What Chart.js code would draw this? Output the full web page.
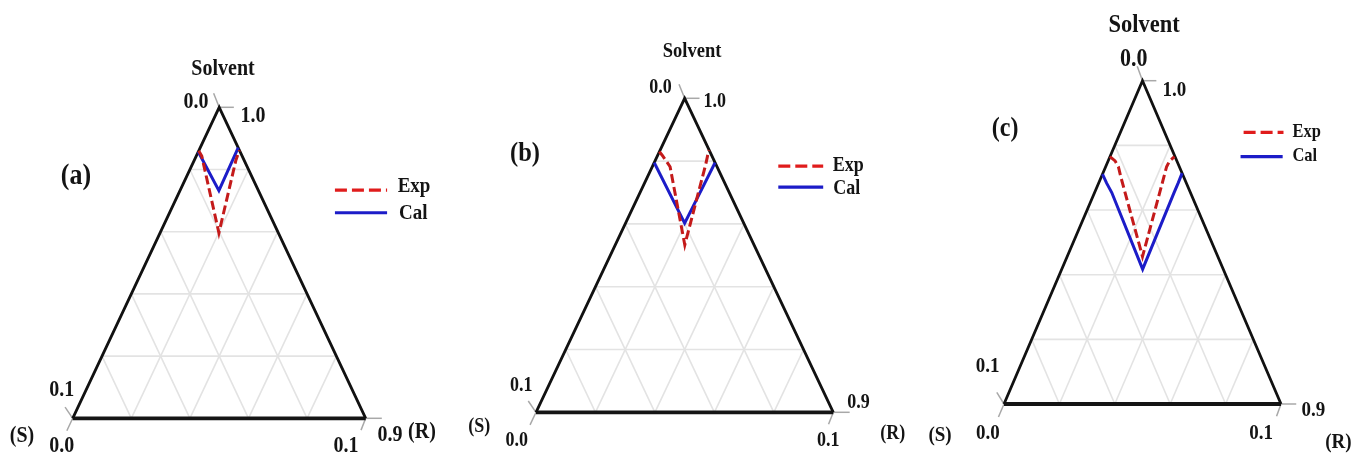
<!DOCTYPE html>
<html><head><meta charset="utf-8">
<script src="https://cdn.jsdelivr.net/npm/chart.js@4.4.1/dist/chart.umd.min.js"></script>
<style>
html,body{margin:0;padding:0;background:#fff;}
#wrap{position:relative;width:1356px;height:454px;overflow:hidden;background:#fff;}
canvas{position:absolute;top:0;}
</style></head><body>
<div id="wrap">
<canvas id="ca" width="460" height="454" style="left:0px"></canvas>
<canvas id="cb" width="480" height="454" style="left:440px"></canvas>
<canvas id="cc" width="460" height="454" style="left:896px"></canvas>
</div>
<script>
// ---------- text / category data ----------
const panelNames  = ['(a)', '(b)', '(c)'];
const seriesNames = ['Exp', 'Cal'];
const apexName    = 'Solvent';
const cornerNames = ['(S)', '(R)'];
const apexTicks   = ['0.0', '1.0'];
const leftTicks   = ['0.1', '0.0'];
const rightTicks  = ['0.9', '0.1'];
const gridSteps   = [0.2, 0.4, 0.6, 0.8];

// ---------- series values (ternary fractions: Solvent, R ; S = 1 - Solvent - R) ----------
// panel (a)
const expA_solvent = [0.860, 0.843, 0.596, 0.830, 0.862];
const expA_R       = [0.000, 0.019, 0.201, 0.142, 0.138];
const calA_solvent = [0.857, 0.732, 0.870];
const calA_R       = [0.000, 0.133, 0.130];
// panel (b)
const expB_solvent = [0.830, 0.818, 0.800, 0.782, 0.533, 0.790, 0.812, 0.826, 0.835];
const expB_R       = [0.000, 0.016, 0.038, 0.060, 0.234, 0.176, 0.170, 0.166, 0.165];
const calB_solvent = [0.795, 0.602, 0.795];
const calB_R       = [0.000, 0.199, 0.205];
// panel (c)
const expC_solvent = [0.765, 0.752, 0.734, 0.703, 0.456, 0.703, 0.734, 0.752, 0.765];
const expC_R       = [0.000, 0.025, 0.046, 0.070, 0.272, 0.226, 0.220, 0.222, 0.233];
const calC_solvent = [0.711, 0.683, 0.654, 0.417, 0.654, 0.684, 0.714];
const calC_R       = [0.000, 0.029, 0.062, 0.292, 0.287, 0.287, 0.286];

// ---------- layout (positions / sizes / styles) ----------
const FONT = '"Liberation Serif", "Times New Roman", serif';
const RED = '#c41a1a', RED_LEG = '#e01c1c', BLUE = '#1c1cc8';
const panels = [
  { id:'ca', cw:460, blx:72.7, bly:418.3, w:293, h:311,
    exp:[expA_solvent, expA_R], cal:[calA_solvent, calA_R], sy:1.12,
    fs:{title:20, apexL:20, tick:20, panel:26, legend:19},
    pos:{title:[.513,1.123], apexL:[.421,1.017], apexR:[.615,.972], panel:[.011,.776],
         exp:[1.165,.744], cal:[1.162,.660], legExp:[.895,1.073,.734], legCal:[.895,1.073,.661],
         leftUp:[-.037,.091], S:[-.173,-.057], leftDown:[-.037,-.089],
         rightDown:[.933,-.089], rightUp:[1.083,-.054], R:[1.192,-.046]} },
  { id:'cb', cw:480, blx:96, bly:412.3, w:297.3, h:314,
    exp:[expB_solvent, expB_R], cal:[calB_solvent, calB_R], sy:1.12,
    fs:{title:18.5, apexL:18, tick:18, panel:24.5, legend:18},
    pos:{title:[.525,1.147], apexL:[.419,1.032], apexR:[.601,.989], panel:[-.037,.824],
         exp:[1.050,.784], cal:[1.045,.711], legExp:[.815,.966,.784], legCal:[.815,.966,.717],
         leftUp:[-.05,.084], S:[-.191,-.046], leftDown:[-.065,-.091],
         rightDown:[.983,-.091], rightUp:[1.085,.031], R:[1.2,-.07]} },
  { id:'cc', cw:460, blx:108, bly:404, w:277, h:323.3,
    exp:[expC_solvent, expC_R], cal:[calC_solvent, calC_R], sy:1.12,
    fs:{title:22.5, apexL:22, tick:19, panel:24, legend:16.5},
    pos:{title:[.506,1.170], apexL:[.468,1.066], apexR:[.615,.969], panel:[.004,.850],
         exp:[1.093,.842], cal:[1.086,.765], legExp:[.865,1.009,.840], legCal:[.854,1.006,.765],
         leftUp:[-.059,.115], S:[-.231,-.098], leftDown:[-.058,-.091],
         rightDown:[.928,-.091], rightUp:[1.117,-.019], R:[1.207,-.119]} }
];
// small vertex tick marks (offsets in data units from each vertex)
const vertexTicks = [
  [[0.5,1],[0.05,0]], [[0.5,1],[-0.019,0.045]],
  [[0,0],[-0.02,-0.04]], [[0,0],[-0.026,0.036]],
  [[1,0],[0.055,0]], [[1,0],[-0.016,-0.038]]
];

// ---------- helpers ----------
function tern(sol, r){ return sol.map((s,i)=>({x: r[i] + s/2, y: s})); }
function line(data, color, width, order, dash){
  return { data, showLine:true, borderColor:color, borderWidth:width, pointRadius:0,
           pointHoverRadius:0, fill:false, order, borderDash:dash||[], tension:0,
           borderJoinStyle:'miter', borderCapStyle:'butt' };
}
function drawText(ctx, s, x, y, size, sy){
  ctx.save();
  ctx.translate(x, y); ctx.scale(1, sy);
  ctx.font = 'bold ' + size + 'px ' + FONT;
  ctx.textAlign = 'center'; ctx.textBaseline = 'middle';
  ctx.fillStyle = '#141414';
  ctx.fillText(s, 0, 0);
  ctx.restore();
}
function makePlugin(i, P){
  return { id:'ternText'+i, afterDraw(chart){
    const ctx = chart.ctx, xs = chart.scales.x, ys = chart.scales.y;
    const X = u => xs.getPixelForValue(u), Y = v => ys.getPixelForValue(v);
    const q = P.pos, f = P.fs;
    const items = [
      [apexName, q.title, f.title], [apexTicks[0], q.apexL, f.apexL], [apexTicks[1], q.apexR, f.tick],
      [panelNames[i], q.panel, f.panel], [seriesNames[0], q.exp, f.legend], [seriesNames[1], q.cal, f.legend],
      [leftTicks[0], q.leftUp, f.tick], [leftTicks[1], q.leftDown, f.tick], [cornerNames[0], q.S, f.tick],
      [rightTicks[1], q.rightDown, f.tick], [rightTicks[0], q.rightUp, f.tick], [cornerNames[1], q.R, f.tick]
    ];
    items.forEach(t => drawText(ctx, t[0], X(t[1][0]), Y(t[1][1]), t[2], P.sy));
    // legend samples
    ctx.save();
    ctx.lineWidth = 3.2; ctx.lineCap = 'butt';
    ctx.strokeStyle = RED_LEG; ctx.setLineDash([12,5]);
    ctx.beginPath(); ctx.moveTo(X(q.legExp[0]), Y(q.legExp[2])); ctx.lineTo(X(q.legExp[1]), Y(q.legExp[2])); ctx.stroke();
    ctx.strokeStyle = BLUE; ctx.setLineDash([]);
    ctx.beginPath(); ctx.moveTo(X(q.legCal[0]), Y(q.legCal[2])); ctx.lineTo(X(q.legCal[1]), Y(q.legCal[2])); ctx.stroke();
    ctx.restore();
  }};
}

panels.forEach((P, i) => {
  const ds = [];
  ds.push(line(tern(P.exp[0], P.exp[1]), RED, 3, 0, [9,4]));
  ds.push(line(tern(P.cal[0], P.cal[1]), BLUE, 3, 1));
  // triangle outline
  ds.push(line([{x:0,y:0},{x:0.5,y:1},{x:1,y:0}], '#111', 2.8, 2));
  ds.push(line([{x:0,y:0},{x:1,y:0}], '#151515', 3.8, 2));
  // vertex ticks
  vertexTicks.forEach(t => ds.push(line([{x:t[0][0],y:t[0][1]},{x:t[0][0]+t[1][0],y:t[0][1]+t[1][1]}], '#a8a8a8', 1.5, 3)));
  // grid
  gridSteps.forEach(t => {
    ds.push(line([{x:t/2,y:t},{x:1-t/2,y:t}], '#e3e3e3', 1.6, 4));
    ds.push(line([{x:t,y:0},{x:t+(1-t)/2,y:1-t}], '#e3e3e3', 1.6, 4));
    ds.push(line([{x:1-t,y:0},{x:(1-t)/2,y:1-t}], '#e3e3e3', 1.6, 4));
  });
  new Chart(document.getElementById(P.id), {
    type:'scatter',
    data:{ datasets: ds },
    options:{
      responsive:false, maintainAspectRatio:false, animation:false, events:[],
      layout:{ padding:0 },
      scales:{
        x:{ type:'linear', display:false, min:(0 - P.blx)/P.w, max:(P.cw - P.blx)/P.w },
        y:{ type:'linear', display:false, min:(P.bly - 454)/P.h, max:P.bly/P.h }
      },
      plugins:{ legend:{display:false}, tooltip:{enabled:false}, title:{display:false} }
    },
    plugins:[ makePlugin(i, P) ]
  });
});
</script>
</body></html>
